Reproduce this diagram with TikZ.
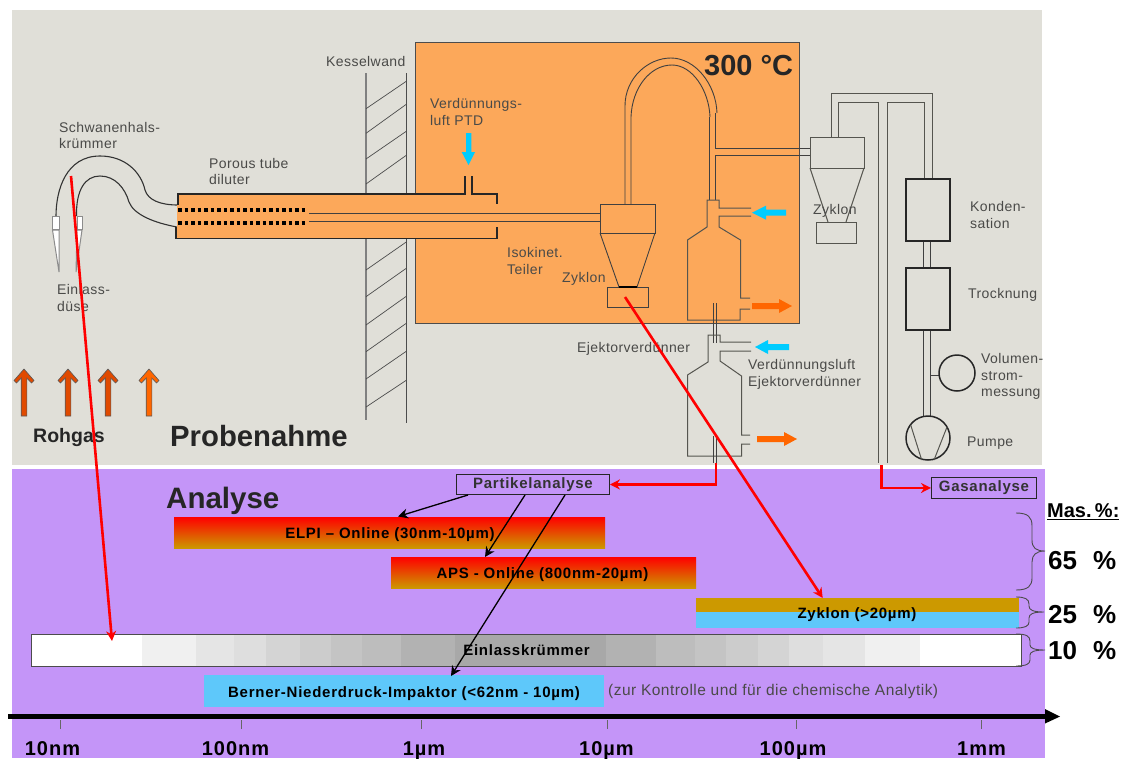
\documentclass[tikz,border=0pt]{standalone}
\usepackage{fontspec}
\setmainfont{Liberation Sans}
\newfontfamily\lsfam[LetterSpace=3]{Liberation Sans}
\newfontfamily\bsfam[LetterSpace=5]{Liberation Sans}
\usetikzlibrary{arrows.meta}
\definecolor{bggray}{HTML}{E0DFD8}
\definecolor{ovenor}{HTML}{FCA85A}
\definecolor{purp}{HTML}{C495F8}
\definecolor{lblgray}{HTML}{4A4A48}
\definecolor{barblue}{HTML}{5EC8FA}
\definecolor{gold}{HTML}{CC9900}
\definecolor{cyanarr}{HTML}{00CCFF}
\definecolor{orarr}{HTML}{FF6600}
\definecolor{rust}{HTML}{E04A00}
\definecolor{linegray}{HTML}{55554F}
\tikzset{
  x=1pt,y=-1pt,
  lbl/.style={anchor=west,inner sep=0pt,text=lblgray,align=left,font=\lsfam\fontsize{14}{16.5}\selectfont},
  pipe/.style={draw=black!75,line width=0.9pt},
  pipegray/.style={draw=linegray,line width=1pt},
  wallline/.style={draw=black!70,line width=0.7pt},
  thicktube/.style={draw=black!85,line width=1.8pt},
  redline/.style={draw=red,line width=2.6pt,-{Stealth[length=10pt,width=10pt]}},
  blackline/.style={draw=black,line width=1.3pt,-{Stealth[length=10pt,width=10pt]}},
  barlbl/.style={inner sep=0pt,anchor=base,text=black,font=\bsfam\fontsize{15}{17}\bfseries\selectfont},
  smallbox/.style={draw=black!85,line width=0.9pt,fill=purp,inner sep=0pt,text=black!80,font=\bsfam\fontsize{15}{17}\bfseries\selectfont},
  ticklbl/.style={inner sep=0pt,anchor=base,text=black,font=\bsfam\fontsize{20}{22}\bfseries\selectfont},
  pct/.style={anchor=base west,inner sep=0pt,text=black,font=\fontsize{26}{28}\bfseries\selectfont},
  brace/.style={draw=black!70,line width=0.9pt},
  biglbl/.style={anchor=west,inner sep=0pt,text=black!85},
}
\newcommand{\uparr}[2]{\fill[fill=#2,draw=black!65,line width=0.6pt]
  (#1,369)--(#1+10,380.5)--(#1+7.5,383)--(#1+2.8,378)--(#1+2.8,416)--(#1-2.8,416)--(#1-2.8,378)--(#1-7.5,383)--(#1-10,380.5)--cycle;}
\begin{document}
\begin{tikzpicture}
\useasboundingbox (0,0) rectangle (1127,758);
\fill[white] (0,0) rectangle (1127,758);
\fill[bggray] (12,10) rectangle (1042,465);
\fill[purp] (12,469) rectangle (1045,758);
% wall
\draw[draw=black!50,line width=1.1pt] (366,73)--(366,420);
\draw[draw=black!70,line width=0.8pt] (406.7,73)--(406.7,422.5);
\draw[wallline] (366,108.7)--(406.7,81);
\draw[wallline] (366,133.3)--(406.7,104);
\draw[wallline] (366,159)--(406.7,131);
\draw[wallline] (366,184)--(406.7,155);
\draw[wallline] (366,270)--(406.7,241.7);
\draw[wallline] (366,296.7)--(406.7,268);
\draw[wallline] (366,325)--(406.7,296);
\draw[wallline] (366,351.7)--(406.7,323);
\draw[wallline] (366,379)--(406.7,351);
\draw[wallline] (366,407)--(406.7,380);
% oven
\fill[ovenor,draw=black!70,line width=1pt] (415.7,42) rectangle (799,323);
% gooseneck
\draw[draw=black!80,line width=1.1pt] (56,216) .. controls (56,190) and (66,156) .. (100,156)
  .. controls (125,156) and (141,172) .. (145,190) .. controls (148,200) and (160,205) .. (178,205);
\draw[draw=black!80,line width=1.1pt] (76.5,216) .. controls (76,190) and (85,176) .. (100,176)
  .. controls (115,176) and (125,188) .. (129,202) .. controls (134,215) and (155,223) .. (177,227);
% nozzle
\filldraw[fill=white,draw=black!45,line width=1pt] (52.5,216) rectangle (59,229);
\filldraw[fill=white,draw=black!45,line width=1pt] (52.5,230)--(59,230)--(59,272)--cycle;
\filldraw[fill=white,draw=black!45,line width=1pt] (77,216) rectangle (82,229);
\filldraw[fill=white,draw=black!45,line width=1pt] (82,230)--(77,230)--(76,272)--cycle;
% porous tube
\fill[ovenor] (177,194) rectangle (497,239);
\draw[thicktube] (178,205)--(178,194)--(465,194)--(465,176);
\draw[thicktube] (472,176)--(472,194)--(497,194)--(497,204);
\draw[thicktube] (176,227)--(176,238.5)--(497,238.5)--(497,227);
\draw[pipe] (309,213)--(600,213);
\draw[pipe] (309,221)--(600,221);
\draw[black,line width=4pt,dash pattern=on 3.8pt off 2.7pt] (178,210.3)--(307,210.3);
\draw[black,line width=4pt,dash pattern=on 3.8pt off 2.7pt] (178,223)--(307,223);
% inner cyclone
\draw[pipe] (600,204) rectangle (655,233);
\draw[pipe] (600,233)--(619,287);
\draw[pipe] (655,233)--(637,287);
\draw[pipe] (607,287) rectangle (648,307);
\draw[black,line width=1.3pt] (619,287)--(637,287);
% upper gooseneck
\draw[pipe] (625,204)--(625,106) .. controls (625,78) and (648,58) .. (671,58)
   .. controls (695,58) and (716,84) .. (717,113);
\draw[pipe] (631,204)--(631,117) .. controls (632,88) and (650,65) .. (672,65)
   .. controls (692,65) and (709,90) .. (710,117);
\draw[pipe] (709.5,117)--(709.5,200);
\draw[pipe] (715,113)--(715,148)--(810,148);
\draw[pipe] (810,155)--(715,155)--(715,200);
% ejector 1
\draw[pipegray] (751,208)--(719,208)--(719,200)--(707,200)--(707,227)--(687.5,240)--(687.5,320)--(740,320)--(740,309)--(750,309);
\draw[pipegray] (751,216)--(719,216)--(719,227)--(740.5,240)--(740.5,298)--(750,298);
\draw[pipe] (713,303)--(713,343);
\draw[pipe] (716.5,303)--(716.5,343);
% ejector 2
\draw[pipegray] (751,342)--(720,342)--(720,335)--(708,335)--(708,362)--(687.5,375)--(687.5,456)--(741.5,456)--(741.5,444)--(750,444);
\draw[pipegray] (751,351)--(720,351)--(720,361)--(741.5,376)--(741.5,435)--(750,435);
\draw[pipe] (713.5,436)--(713.5,463);
\draw[pipe] (716.5,436)--(716.5,463);
% right cyclone
\draw[pipegray] (810,137) rectangle (864,168);
\draw[pipegray] (810,168)--(828,222);
\draw[pipegray] (864,168)--(846,222);
\draw[pipegray] (816,222) rectangle (856,243);
\draw[pipegray] (831.5,137)--(831.5,93)--(932,93)--(932,179);
\draw[pipegray] (838,137)--(838,102)--(878,102)--(878,463);
\draw[pipegray] (887,463)--(887,102)--(924.5,102)--(924.5,179);
% right column
\draw[pipe] (923.5,241)--(923.5,268);
\draw[pipe] (930.5,241)--(930.5,268);
\draw[pipe] (923.5,330)--(923.5,416);
\draw[pipe] (930,330)--(930,416);
\draw[draw=black!85,line width=2pt] (906,179) rectangle (950,241);
\draw[draw=black!85,line width=2pt] (906,268) rectangle (950,330);
\draw[pipe] (930,375)--(939,375);
\draw[draw=black!85,line width=1.5pt] (957,373) circle[radius=18];
\draw[draw=black!85,line width=1.5pt] (928,438) circle[radius=22];
\draw[pipegray] (910.7,425)--(921.7,460);
\draw[pipegray] (947,427)--(934,460);
% blue and orange arrows
\fill[cyanarr] (466,133)--(471.3,133)--(471.3,152)--(475,152)--(468.5,165)--(461.7,152)--(466,152)--cycle;
\fill[cyanarr] (752,212.7)--(766,205.7)--(766,209.7)--(786,209.7)--(786,215.7)--(766,215.7)--(766,219.7)--cycle;
\fill[cyanarr] (755,347)--(768,340)--(768,344)--(789,344)--(789,350)--(768,350)--(768,354)--cycle;
\fill[orarr] (792,306)--(779,299)--(779,303)--(752,303)--(752,309)--(779,309)--(779,313)--cycle;
\fill[orarr] (797,439)--(784,432)--(784,436)--(757,436)--(757,442)--(784,442)--(784,446)--cycle;
\uparr{24}{rust}
\uparr{68}{rust}
\uparr{108}{rust}
\uparr{149}{orarr}
% labels Probenahme
\node[lbl] (schwan) at (59,135.5) {Schwanenhals-\\krümmer};
\node[lbl] (porous) at (209,171.5) {Porous tube\\diluter};
\node[lbl] (einlass) at (57,298) {Einlass-\\düse};
\node[lbl] (kessel) at (326,61) {Kesselwand};
\node[lbl] (verd) at (430,112) {Verdünnungs-\\luft PTD};
\node[lbl] (iso) at (507,261) {Isokinet.\\Teiler};
\node[lbl] (zyk1) at (562,279) {Zyklon};
\node[lbl] (ejek) at (577,349) {Ejektorverdünner};
\node[lbl] (verd2) at (748,374.5) {Verdünnungsluft\\Ejektorverdünner};
\node[lbl] (zyk2) at (813,211) {Zyklon};
\node[lbl] (kond) at (970,215) {Konden-\\sation};
\node[lbl] (trock) at (968,295) {Trocknung};
\node[lbl] (vol) at (981,376.5) {Volumen-\\strom-\\messung};
\node[lbl] (pump) at (967,443) {Pumpe};
\node[biglbl,font=\fontsize{29}{31}\bfseries\selectfont] (temp) at (704,66) {300 °C};
\node[biglbl,font=\fontsize{19.5}{22}\bfseries\selectfont] (rohgas) at (33,437) {Rohgas};
\node[biglbl,font=\fontsize{29.3}{31}\bfseries\selectfont] (probe) at (170,436) {Probenahme};
\node[biglbl,font=\fontsize{29.5}{31}\bfseries\selectfont] (analyse) at (166,501) {Analyse};
% bars
\node[minimum width=431pt,minimum height=31pt,inner sep=0pt,top color=red,bottom color=gold,anchor=north west] (elpi) at (174,517) {};
\node[barlbl] (elpit) at (390,538) {ELPI – Online (30nm-10µm)};
\node[minimum width=305pt,minimum height=31pt,inner sep=0pt,top color=red,bottom color=gold,anchor=north west] (aps) at (391,557) {};
\node[barlbl] (apst) at (542.5,578.5) {APS - Online (800nm-20µm)};
\fill[gold] (696,598) rectangle (1019,612);
\fill[barblue] (696,612) rectangle (1019,628);
\node[barlbl] (zykbar) at (857,618) {Zyklon (>20µm)};
\coordinate (zyktop) at (822.7,598);
% Einlass bar
\fill[white] (31,634) rectangle (1021,666);
\fill[black!6] (142,635) rectangle (196,666);
\fill[black!10] (196,635) rectangle (234,666);
\fill[black!13] (234,635) rectangle (266,666);
\fill[black!17] (266,635) rectangle (300,666);
\fill[black!20] (300,635) rectangle (331,666);
\fill[black!23] (331,635) rectangle (362,666);
\fill[black!26] (362,635) rectangle (401,666);
\fill[black!30] (401,635) rectangle (455,666);
\fill[black!34] (455,635) rectangle (605.5,666);
\fill[black!30] (605.5,635) rectangle (656,666);
\fill[black!26] (656,635) rectangle (695,666);
\fill[black!23] (695,635) rectangle (725.5,666);
\fill[black!20] (725.5,635) rectangle (757.5,666);
\fill[black!17] (757.5,635) rectangle (789,666);
\fill[black!13] (789,635) rectangle (822.5,666);
\fill[black!10] (822.5,635) rectangle (865,666);
\fill[black!6] (865,635) rectangle (920,666);
\node[draw=black!70,line width=1pt,minimum width=990pt,minimum height=32pt,inner sep=0pt,anchor=north west] (einl) at (31,634) {};
\node[barlbl] (einlt) at (526.5,655.5) {Einlasskrümmer};
\node[fill=barblue,minimum width=400pt,minimum height=32pt,inner sep=0pt,anchor=north west] (bernerbar) at (204,675) {};
\node[barlbl] (bernert) at (404,697.5) {Berner-Niederdruck-Impaktor (<62nm - 10µm)};
\node[lbl,font=\lsfam\fontsize{15.5}{17}\selectfont] (kontrolle) at (608,691) {(zur Kontrolle und für die chemische Analytik)};
% boxes
\node[smallbox,minimum width=153pt,minimum height=20pt,anchor=north west] (part) at (456,474) {Partikelanalyse};
\node[smallbox,minimum width=105pt,minimum height=21pt,anchor=north west] (gas) at (931,477) {Gasanalyse};
% axis
\draw[black,line width=5.5pt] (8,716.7)--(1046,716.7);
\fill[black] (1045,709)--(1060,716.5)--(1045,723.5)--cycle;
\foreach \xx in {60,241,421,607,796,981}{\draw[draw=black!60,line width=0.8pt] (\xx,720)--(\xx,729);}
\node[ticklbl] (t1) at (52.5,755.5) {10nm};
\node[ticklbl] (t2) at (235.5,755.5) {100nm};
\node[ticklbl] (t3) at (424,755.5) {1µm};
\node[ticklbl] (t4) at (606.5,755.5) {10µm};
\node[ticklbl] (t5) at (793,755.5) {100µm};
\node[ticklbl] (t6) at (981.5,755.5) {1mm};
% right column
\node[biglbl,text=black,font=\fontsize{20}{22}\bfseries\selectfont] (mas) at (1047,512) {\underline{Mas.\,\%:}};
\node[pct] (p65) at (1048,569.5) {65\hspace{16pt}\%};
\node[pct] (p25) at (1048,623.5) {25\hspace{16pt}\%};
\node[pct] (p10) at (1048,659.5) {10\hspace{16pt}\%};
\draw[brace] (1016,513) .. controls (1028,513) and (1032,517) .. (1032,526)--(1032,540) .. controls (1032,548) and (1036,551) .. (1045,551)
   .. controls (1036,551) and (1032,555) .. (1032,562)--(1032,578) .. controls (1032,586) and (1028,590) .. (1016,590);
\draw[brace] (1016,597) .. controls (1025,597) and (1029,599) .. (1029,604) -- (1029,606) .. controls (1029,610) and (1033,612) .. (1044,612)
   .. controls (1033,612) and (1029,614) .. (1029,618)--(1029,622) .. controls (1029,626) and (1025,628) .. (1016,628);
\draw[brace] (1016,634) .. controls (1026,634) and (1030,636) .. (1030,641) -- (1030,645) .. controls (1030,648) and (1034,650) .. (1045,650)
   .. controls (1034,650) and (1030,652) .. (1030,655)--(1030,660) .. controls (1030,664) and (1026,666) .. (1016,666);
% connectors
\coordinate (sa) at (71,176);
\coordinate (sb) at (112,641);
\draw[redline] (sa)--(sb);
\coordinate (zb) at (625,297);
\draw[redline] (zb)--(zyktop);
\coordinate (ej) at (716,463);
\draw[redline] (ej) |- (part.east);
\coordinate (gs) at (881.5,465);
\draw[redline] (gs) |- (gas.west);
\coordinate (pa) at (468,495);
\coordinate (pb) at (525,495);
\coordinate (pc) at (565,495);
\coordinate (ea) at (398,516.5);
\coordinate (eb) at (485,557);
\coordinate (ec) at (451,676);
\draw[blackline] (pa)--(ea);
\draw[blackline] (pb)--(eb);
\draw[blackline] (pc)--(ec);
\end{tikzpicture}
\end{document}
